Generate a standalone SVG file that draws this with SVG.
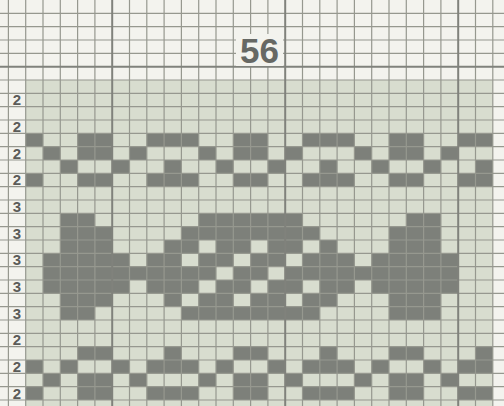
<svg xmlns="http://www.w3.org/2000/svg" width="504" height="406" viewBox="0 0 504 406">
<style>
.lbl{font-family:"Liberation Sans",Arial,sans-serif;font-size:15px;font-weight:700;fill:#5b5c59;text-anchor:middle}
.ttl{font-family:"Liberation Sans",Arial,sans-serif;font-size:35px;font-weight:700;fill:#666864;text-anchor:middle}
.gl{fill:none;stroke:#96988f;stroke-width:1.2}
.gt{fill:none;stroke:#80827c;stroke-width:2}
</style>
<rect width="504" height="406" fill="#f3f3ee"/>
<g id="chart" transform="translate(25.7 80) scale(17.3 13.3333)">
<rect x="0" y="0" width="27" height="25" fill="#d8ddcf"/>
<path fill="#7d807a" d="
M0 4h1v1h-1zM3 4h2v1h-2zM7 4h3v1h-3zM12 4h2v1h-2zM16 4h3v1h-3zM21 4h2v1h-2zM25 4h2v1h-2z
M1 5h1v1h-1zM3 5h2v1h-2zM6 5h1v1h-1zM10 5h1v1h-1zM12 5h2v1h-2zM15 5h1v1h-1zM19 5h1v1h-1zM21 5h2v1h-2zM24 5h1v1h-1z
M2 6h1v1h-1zM5 6h1v1h-1zM8 6h1v1h-1zM11 6h1v1h-1zM14 6h1v1h-1zM17 6h1v1h-1zM20 6h1v1h-1zM23 6h1v1h-1zM26 6h1v1h-1z
M0 7h1v1h-1zM3 7h2v1h-2zM7 7h3v1h-3zM12 7h2v1h-2zM16 7h3v1h-3zM21 7h2v1h-2zM25 7h2v1h-2z
M2 10h2v1h-2zM10 10h6v1h-6zM22 10h2v1h-2z
M2 11h3v1h-3zM9 11h8v1h-8zM21 11h3v1h-3z
M2 12h3v1h-3zM8 12h2v1h-2zM11 12h2v1h-2zM14 12h2v1h-2zM17 12h1v1h-1zM21 12h3v1h-3z
M1 13h5v1h-5zM7 13h2v1h-2zM10 13h2v1h-2zM13 13h2v1h-2zM16 13h3v1h-3zM20 13h5v1h-5z
M1 14h10v1h-10zM12 14h2v1h-2zM15 14h10v1h-10z
M1 15h5v1h-5zM7 15h3v1h-3zM11 15h2v1h-2zM14 15h2v1h-2zM17 15h2v1h-2zM20 15h5v1h-5z
M2 16h3v1h-3zM8 16h1v1h-1zM10 16h2v1h-2zM13 16h2v1h-2zM16 16h2v1h-2zM21 16h3v1h-3z
M2 17h2v1h-2zM9 17h8v1h-8zM21 17h3v1h-3z
M3 20h2v1h-2zM8 20h1v1h-1zM12 20h2v1h-2zM17 20h1v1h-1zM21 20h2v1h-2zM26 20h1v1h-1z
M0 21h1v1h-1zM2 21h1v1h-1zM5 21h1v1h-1zM7 21h3v1h-3zM11 21h1v1h-1zM14 21h1v1h-1zM16 21h3v1h-3zM20 21h1v1h-1zM23 21h1v1h-1zM25 21h2v1h-2z
M1 22h1v1h-1zM3 22h2v1h-2zM6 22h1v1h-1zM10 22h1v1h-1zM12 22h2v1h-2zM15 22h1v1h-1zM19 22h1v1h-1zM21 22h2v1h-2zM24 22h1v1h-1z
M0 23h1v1h-1zM3 23h2v1h-2zM7 23h3v1h-3zM12 23h2v1h-2zM16 23h3v1h-3zM21 23h2v1h-2zM25 23h2v1h-2z"/>
</g>
<g id="grid" transform="translate(25.7 80) scale(17.3 13.3333)">
<path class="gl" vector-effect="non-scaling-stroke" d="M-1 -6V25M0 -6V25M1 -6V25M2 -6V25M3 -6V25M4 -6V25M6 -6V25M7 -6V25M8 -6V25M9 -6V25M10 -6V25M11 -6V25M12 -6V25M13 -6V25M14 -6V25M16 -6V25M17 -6V25M18 -6V25M19 -6V25M20 -6V25M21 -6V25M22 -6V25M23 -6V25M24 -6V25M26 -6V25M27 -6V25"/>
<path class="gl" vector-effect="non-scaling-stroke" d="M-1.5 -5H27.7M-1.5 -4H27.7M-1.5 -3H27.7M-1.5 -2H27.7M-1.5 0H27.7M-1.5 1H27.7M-1.5 2H27.7M-1.5 3H27.7M-1.5 4H27.7M-1.5 5H27.7M-1.5 6H27.7M-1.5 7H27.7M-1.5 8H27.7M-1.5 9H27.7M-1.5 10H27.7M-1.5 11H27.7M-1.5 12H27.7M-1.5 13H27.7M-1.5 14H27.7M-1.5 15H27.7M-1.5 16H27.7M-1.5 17H27.7M-1.5 18H27.7M-1.5 19H27.7M-1.5 20H27.7M-1.5 21H27.7M-1.5 22H27.7M-1.5 23H27.7M-1.5 24H27.7"/>
<path class="gt" vector-effect="non-scaling-stroke" d="M5 -6V25M15 -6V25M25 -6V25M-1.5 -1H27.7"/>
</g>
<g id="title">
<rect x="236" y="34" width="47" height="32" fill="#f3f3ee"/>
<text class="ttl" x="259.5" y="63">56</text>
</g>
<g id="labels">
<text class="lbl" x="17" y="105.4">2</text>
<text class="lbl" x="17" y="132">2</text>
<text class="lbl" x="17" y="158.7">2</text>
<text class="lbl" x="17" y="185.4">2</text>
<text class="lbl" x="17" y="212">3</text>
<text class="lbl" x="17" y="238.7">3</text>
<text class="lbl" x="17" y="265.4">3</text>
<text class="lbl" x="17" y="292">3</text>
<text class="lbl" x="17" y="318.7">3</text>
<text class="lbl" x="17" y="345.4">2</text>
<text class="lbl" x="17" y="372">2</text>
<text class="lbl" x="17" y="398.7">2</text>
</g>
</svg>
